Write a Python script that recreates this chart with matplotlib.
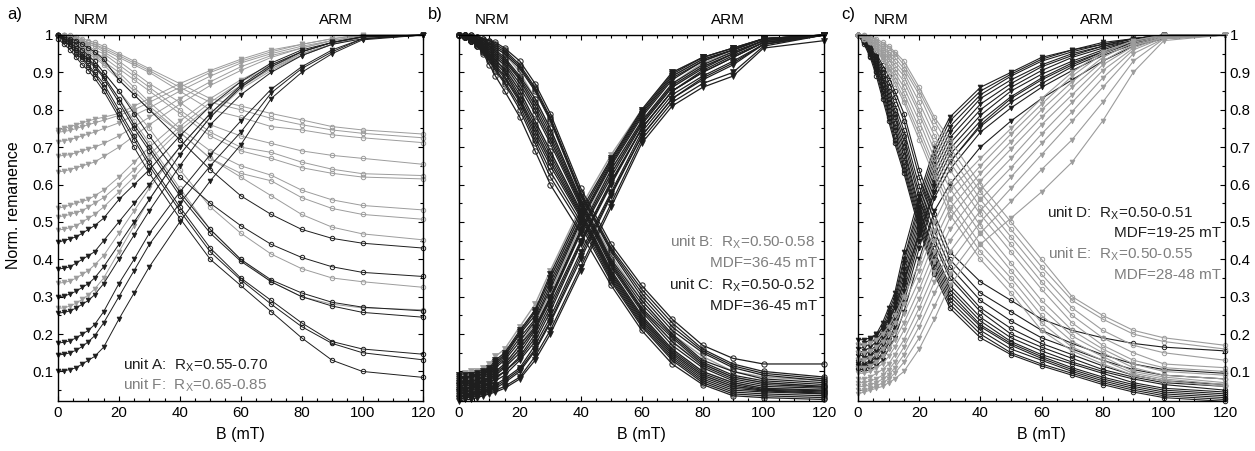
import numpy as np
import matplotlib
matplotlib.use('Agg')
import matplotlib.pyplot as plt
from matplotlib.ticker import MultipleLocator, FuncFormatter

plt.rcParams['font.family'] = ['Liberation Sans', 'DejaVu Sans']
plt.rcParams['mathtext.default'] = 'regular'
plt.rcParams['font.size'] = 11

# AF steps (mT), shared by all panels
field = [0, 2, 4, 6, 8, 10, 12, 15, 20, 25, 30, 40, 50, 60, 70, 80, 90, 100, 120]

# ---- panel a: unit A (black) and unit F (grey)
nrm_A = [
    [1.00, 0.995, 0.99, 0.985, 0.975, 0.965, 0.955, 0.935, 0.88, 0.84, 0.80, 0.72, 0.64, 0.57, 0.52, 0.48, 0.456, 0.443, 0.43],
    [1.00, 0.99, 0.985, 0.975, 0.96, 0.945, 0.93, 0.90, 0.85, 0.79, 0.73, 0.62, 0.55, 0.49, 0.44, 0.405, 0.38, 0.365, 0.354],
    [1.00, 0.99, 0.98, 0.965, 0.95, 0.935, 0.92, 0.89, 0.83, 0.76, 0.70, 0.58, 0.48, 0.40, 0.345, 0.31, 0.285, 0.272, 0.262],
    [1.00, 0.99, 0.975, 0.96, 0.945, 0.93, 0.915, 0.885, 0.82, 0.75, 0.69, 0.57, 0.47, 0.395, 0.34, 0.30, 0.275, 0.258, 0.245],
    [1.00, 0.985, 0.97, 0.955, 0.94, 0.92, 0.90, 0.87, 0.80, 0.73, 0.66, 0.54, 0.43, 0.35, 0.29, 0.23, 0.18, 0.16, 0.146],
    [1.00, 0.985, 0.97, 0.95, 0.935, 0.915, 0.895, 0.86, 0.79, 0.72, 0.65, 0.53, 0.42, 0.345, 0.28, 0.22, 0.175, 0.15, 0.131],
    [0.99, 0.975, 0.96, 0.94, 0.92, 0.905, 0.885, 0.85, 0.78, 0.70, 0.63, 0.51, 0.40, 0.33, 0.26, 0.19, 0.13, 0.10, 0.084],
]
arm_A = [
    [0.447, 0.45, 0.455, 0.46, 0.47, 0.48, 0.49, 0.51, 0.56, 0.60, 0.64, 0.73, 0.81, 0.875, 0.925, 0.96, 0.98, 0.995, 1.0],
    [0.374, 0.376, 0.38, 0.39, 0.40, 0.41, 0.42, 0.45, 0.50, 0.55, 0.60, 0.70, 0.79, 0.865, 0.92, 0.955, 0.98, 0.995, 1.0],
    [0.30, 0.302, 0.307, 0.315, 0.325, 0.335, 0.35, 0.38, 0.44, 0.50, 0.56, 0.68, 0.78, 0.86, 0.915, 0.955, 0.98, 0.995, 1.0],
    [0.256, 0.258, 0.262, 0.27, 0.28, 0.29, 0.305, 0.335, 0.40, 0.465, 0.53, 0.65, 0.76, 0.84, 0.90, 0.945, 0.975, 0.99, 1.0],
    [0.176, 0.178, 0.182, 0.19, 0.20, 0.21, 0.225, 0.26, 0.335, 0.40, 0.47, 0.58, 0.68, 0.77, 0.855, 0.915, 0.96, 0.99, 1.0],
    [0.144, 0.146, 0.15, 0.157, 0.167, 0.18, 0.195, 0.23, 0.30, 0.37, 0.44, 0.55, 0.65, 0.74, 0.845, 0.91, 0.955, 0.99, 1.0],
    [0.10, 0.102, 0.105, 0.11, 0.12, 0.13, 0.14, 0.165, 0.24, 0.31, 0.38, 0.50, 0.61, 0.706, 0.83, 0.90, 0.95, 0.987, 1.0],
]
nrm_F = [
    [1.00, 1.00, 1.00, 0.995, 0.99, 0.985, 0.98, 0.97, 0.95, 0.93, 0.91, 0.87, 0.83, 0.81, 0.79, 0.773, 0.755, 0.746, 0.735],
    [1.00, 1.00, 0.995, 0.99, 0.985, 0.98, 0.975, 0.965, 0.945, 0.925, 0.905, 0.86, 0.82, 0.80, 0.777, 0.76, 0.746, 0.737, 0.725],
    [1.00, 1.00, 0.995, 0.99, 0.985, 0.98, 0.975, 0.96, 0.94, 0.92, 0.90, 0.85, 0.80, 0.78, 0.755, 0.746, 0.733, 0.725, 0.712],
    [1.00, 1.00, 0.995, 0.99, 0.98, 0.975, 0.97, 0.955, 0.93, 0.90, 0.87, 0.82, 0.76, 0.73, 0.71, 0.69, 0.678, 0.67, 0.654],
    [1.00, 1.00, 0.99, 0.985, 0.98, 0.97, 0.96, 0.95, 0.92, 0.89, 0.86, 0.80, 0.74, 0.70, 0.686, 0.66, 0.641, 0.629, 0.624],
    [1.00, 0.995, 0.99, 0.985, 0.975, 0.965, 0.955, 0.94, 0.91, 0.88, 0.85, 0.79, 0.73, 0.69, 0.67, 0.645, 0.63, 0.62, 0.615],
    [1.00, 0.995, 0.99, 0.98, 0.97, 0.96, 0.95, 0.93, 0.90, 0.86, 0.82, 0.75, 0.69, 0.65, 0.625, 0.585, 0.559, 0.544, 0.532],
    [1.00, 0.995, 0.985, 0.975, 0.965, 0.955, 0.945, 0.925, 0.89, 0.85, 0.81, 0.74, 0.67, 0.63, 0.61, 0.565, 0.536, 0.52, 0.507],
    [1.00, 0.99, 0.985, 0.975, 0.96, 0.95, 0.94, 0.92, 0.88, 0.84, 0.80, 0.74, 0.67, 0.62, 0.57, 0.52, 0.486, 0.468, 0.452],
    [1.00, 0.99, 0.98, 0.97, 0.955, 0.94, 0.93, 0.90, 0.85, 0.80, 0.75, 0.64, 0.54, 0.47, 0.414, 0.375, 0.35, 0.34, 0.325],
    [1.00, 0.99, 0.98, 0.965, 0.95, 0.935, 0.92, 0.89, 0.83, 0.77, 0.71, 0.59, 0.48, 0.40, 0.34, 0.30, 0.28, 0.27, 0.265],
]
arm_F = [
    [0.745, 0.75, 0.755, 0.76, 0.765, 0.77, 0.775, 0.78, 0.79, 0.81, 0.83, 0.87, 0.905, 0.935, 0.96, 0.975, 0.99, 1.0, 1.0],
    [0.74, 0.742, 0.745, 0.75, 0.755, 0.76, 0.765, 0.772, 0.785, 0.80, 0.82, 0.86, 0.90, 0.93, 0.955, 0.975, 0.99, 1.0, 1.0],
    [0.715, 0.717, 0.72, 0.725, 0.73, 0.735, 0.74, 0.75, 0.765, 0.785, 0.805, 0.85, 0.89, 0.925, 0.95, 0.97, 0.985, 0.998, 1.0],
    [0.676, 0.678, 0.68, 0.685, 0.69, 0.695, 0.70, 0.71, 0.73, 0.755, 0.78, 0.83, 0.875, 0.915, 0.945, 0.965, 0.985, 0.997, 1.0],
    [0.634, 0.636, 0.64, 0.645, 0.65, 0.655, 0.66, 0.675, 0.70, 0.73, 0.76, 0.815, 0.865, 0.905, 0.94, 0.965, 0.985, 0.997, 1.0],
    [0.537, 0.54, 0.545, 0.55, 0.555, 0.56, 0.57, 0.585, 0.62, 0.66, 0.70, 0.77, 0.83, 0.88, 0.92, 0.955, 0.98, 0.995, 1.0],
    [0.514, 0.516, 0.52, 0.525, 0.53, 0.54, 0.55, 0.565, 0.60, 0.64, 0.68, 0.755, 0.82, 0.875, 0.915, 0.95, 0.975, 0.995, 1.0],
    [0.479, 0.48, 0.485, 0.49, 0.50, 0.51, 0.52, 0.54, 0.58, 0.62, 0.665, 0.745, 0.81, 0.865, 0.91, 0.945, 0.975, 0.995, 1.0],
    [0.336, 0.338, 0.342, 0.35, 0.36, 0.37, 0.385, 0.41, 0.47, 0.53, 0.59, 0.70, 0.79, 0.86, 0.91, 0.95, 0.975, 0.995, 1.0],
    [0.269, 0.27, 0.275, 0.283, 0.293, 0.305, 0.32, 0.35, 0.42, 0.49, 0.56, 0.68, 0.78, 0.855, 0.905, 0.945, 0.975, 0.995, 1.0],
]

# ---- panel b: unit B (grey) and unit C (black)
nrm_B = [
    [1.00, 1.00, 0.995, 0.99, 0.98, 0.97, 0.955, 0.935, 0.88, 0.80, 0.72, 0.55, 0.39, 0.27, 0.18, 0.12, 0.085, 0.07, 0.06],
    [1.00, 0.995, 0.99, 0.98, 0.97, 0.955, 0.94, 0.915, 0.85, 0.77, 0.69, 0.53, 0.37, 0.25, 0.16, 0.10, 0.07, 0.055, 0.05],
    [1.00, 0.995, 0.985, 0.975, 0.96, 0.945, 0.925, 0.90, 0.83, 0.75, 0.66, 0.52, 0.36, 0.24, 0.15, 0.09, 0.06, 0.05, 0.04],
    [1.00, 1.00, 0.995, 0.99, 0.985, 0.975, 0.965, 0.95, 0.90, 0.83, 0.75, 0.56, 0.41, 0.29, 0.20, 0.14, 0.10, 0.085, 0.075],
]
arm_B = [
    [0.09, 0.095, 0.10, 0.10, 0.11, 0.12, 0.14, 0.16, 0.22, 0.28, 0.37, 0.54, 0.68, 0.80, 0.90, 0.94, 0.965, 0.99, 1.0],
    [0.07, 0.08, 0.08, 0.085, 0.09, 0.10, 0.12, 0.145, 0.20, 0.26, 0.35, 0.52, 0.67, 0.79, 0.89, 0.935, 0.96, 0.99, 1.0],
    [0.06, 0.06, 0.065, 0.07, 0.08, 0.09, 0.10, 0.12, 0.17, 0.23, 0.31, 0.49, 0.64, 0.77, 0.87, 0.925, 0.955, 0.985, 1.0],
    [0.05, 0.055, 0.06, 0.06, 0.07, 0.08, 0.09, 0.11, 0.16, 0.22, 0.30, 0.47, 0.63, 0.76, 0.86, 0.915, 0.95, 0.985, 1.0],
]
nrm_C = [
    [1.00, 1.00, 1.00, 0.995, 0.99, 0.985, 0.98, 0.965, 0.93, 0.87, 0.79, 0.59, 0.44, 0.33, 0.24, 0.17, 0.135, 0.12, 0.12],
    [1.00, 1.00, 1.00, 0.995, 0.99, 0.985, 0.975, 0.96, 0.92, 0.86, 0.78, 0.58, 0.43, 0.32, 0.23, 0.16, 0.12, 0.10, 0.085],
    [1.00, 1.00, 0.995, 0.99, 0.985, 0.98, 0.97, 0.955, 0.915, 0.855, 0.775, 0.575, 0.425, 0.31, 0.22, 0.155, 0.115, 0.095, 0.08],
    [1.00, 1.00, 0.995, 0.99, 0.985, 0.975, 0.965, 0.95, 0.91, 0.85, 0.77, 0.57, 0.42, 0.30, 0.21, 0.15, 0.11, 0.09, 0.075],
    [1.00, 1.00, 0.995, 0.99, 0.98, 0.97, 0.96, 0.94, 0.89, 0.83, 0.75, 0.56, 0.40, 0.29, 0.20, 0.13, 0.10, 0.08, 0.07],
    [1.00, 0.995, 0.99, 0.985, 0.98, 0.97, 0.955, 0.935, 0.885, 0.82, 0.74, 0.555, 0.395, 0.28, 0.195, 0.125, 0.09, 0.075, 0.065],
    [1.00, 0.995, 0.99, 0.985, 0.975, 0.965, 0.95, 0.93, 0.88, 0.81, 0.73, 0.55, 0.39, 0.27, 0.19, 0.12, 0.085, 0.07, 0.06],
    [1.00, 0.995, 0.99, 0.98, 0.97, 0.96, 0.945, 0.925, 0.87, 0.80, 0.72, 0.545, 0.385, 0.265, 0.18, 0.115, 0.08, 0.065, 0.058],
    [1.00, 0.995, 0.99, 0.98, 0.97, 0.955, 0.94, 0.92, 0.86, 0.79, 0.71, 0.54, 0.38, 0.26, 0.17, 0.11, 0.075, 0.06, 0.055],
    [1.00, 0.995, 0.99, 0.98, 0.965, 0.95, 0.935, 0.905, 0.84, 0.76, 0.68, 0.525, 0.365, 0.245, 0.155, 0.095, 0.065, 0.052, 0.048],
    [1.00, 0.995, 0.99, 0.98, 0.965, 0.95, 0.93, 0.91, 0.85, 0.77, 0.69, 0.53, 0.37, 0.25, 0.16, 0.10, 0.07, 0.055, 0.05],
    [1.00, 0.995, 0.985, 0.975, 0.96, 0.945, 0.925, 0.90, 0.83, 0.75, 0.67, 0.52, 0.36, 0.24, 0.15, 0.09, 0.06, 0.05, 0.045],
    [1.00, 0.995, 0.985, 0.975, 0.96, 0.94, 0.92, 0.89, 0.825, 0.74, 0.66, 0.515, 0.355, 0.235, 0.145, 0.085, 0.055, 0.048, 0.042],
    [1.00, 0.995, 0.985, 0.975, 0.96, 0.94, 0.915, 0.885, 0.82, 0.73, 0.65, 0.51, 0.35, 0.23, 0.14, 0.08, 0.05, 0.045, 0.04],
    [1.00, 0.995, 0.985, 0.97, 0.955, 0.935, 0.91, 0.875, 0.81, 0.72, 0.635, 0.50, 0.345, 0.225, 0.135, 0.075, 0.045, 0.04, 0.035],
    [1.00, 0.995, 0.985, 0.97, 0.955, 0.93, 0.905, 0.87, 0.80, 0.71, 0.62, 0.49, 0.34, 0.22, 0.13, 0.07, 0.04, 0.035, 0.03],
    [1.00, 0.995, 0.985, 0.97, 0.95, 0.92, 0.89, 0.85, 0.78, 0.69, 0.60, 0.47, 0.33, 0.21, 0.12, 0.065, 0.035, 0.03, 0.025],
]
arm_C = [
    [0.08, 0.09, 0.085, 0.095, 0.10, 0.11, 0.13, 0.15, 0.21, 0.265, 0.36, 0.53, 0.67, 0.80, 0.90, 0.94, 0.965, 0.99, 1.0],
    [0.085, 0.08, 0.09, 0.085, 0.095, 0.105, 0.125, 0.145, 0.205, 0.26, 0.35, 0.52, 0.665, 0.795, 0.895, 0.94, 0.965, 0.99, 1.0],
    [0.09, 0.08, 0.09, 0.09, 0.095, 0.10, 0.12, 0.14, 0.20, 0.25, 0.34, 0.51, 0.66, 0.79, 0.89, 0.935, 0.96, 0.99, 1.0],
    [0.075, 0.07, 0.08, 0.075, 0.09, 0.095, 0.115, 0.135, 0.19, 0.24, 0.33, 0.505, 0.655, 0.785, 0.885, 0.93, 0.96, 0.99, 1.0],
    [0.07, 0.075, 0.07, 0.08, 0.085, 0.09, 0.11, 0.13, 0.18, 0.235, 0.32, 0.50, 0.65, 0.78, 0.88, 0.93, 0.96, 0.99, 1.0],
    [0.06, 0.065, 0.07, 0.065, 0.075, 0.085, 0.10, 0.12, 0.17, 0.22, 0.30, 0.48, 0.64, 0.77, 0.87, 0.92, 0.955, 0.985, 1.0],
    [0.055, 0.065, 0.06, 0.07, 0.075, 0.08, 0.095, 0.115, 0.16, 0.215, 0.295, 0.475, 0.63, 0.765, 0.865, 0.915, 0.95, 0.985, 1.0],
    [0.05, 0.06, 0.055, 0.065, 0.07, 0.075, 0.09, 0.11, 0.15, 0.21, 0.29, 0.47, 0.62, 0.76, 0.86, 0.91, 0.95, 0.985, 1.0],
    [0.065, 0.05, 0.06, 0.055, 0.06, 0.07, 0.08, 0.10, 0.14, 0.20, 0.28, 0.45, 0.61, 0.75, 0.85, 0.905, 0.945, 0.98, 1.0],
    [0.045, 0.05, 0.05, 0.055, 0.06, 0.065, 0.085, 0.10, 0.135, 0.19, 0.27, 0.445, 0.605, 0.75, 0.85, 0.90, 0.94, 0.98, 1.0],
    [0.04, 0.045, 0.05, 0.05, 0.055, 0.06, 0.075, 0.09, 0.13, 0.18, 0.26, 0.44, 0.60, 0.75, 0.85, 0.90, 0.94, 0.98, 1.0],
    [0.045, 0.04, 0.04, 0.045, 0.05, 0.055, 0.065, 0.08, 0.11, 0.17, 0.245, 0.42, 0.58, 0.74, 0.84, 0.89, 0.93, 0.975, 1.0],
    [0.035, 0.035, 0.04, 0.04, 0.045, 0.05, 0.055, 0.07, 0.10, 0.155, 0.23, 0.40, 0.57, 0.73, 0.83, 0.88, 0.92, 0.975, 1.0],
    [0.03, 0.035, 0.035, 0.04, 0.045, 0.05, 0.06, 0.075, 0.105, 0.16, 0.235, 0.41, 0.575, 0.73, 0.83, 0.885, 0.925, 0.975, 1.0],
    [0.025, 0.03, 0.03, 0.035, 0.04, 0.045, 0.05, 0.06, 0.085, 0.14, 0.21, 0.38, 0.55, 0.72, 0.82, 0.87, 0.90, 0.97, 1.0],
    [0.02, 0.025, 0.025, 0.03, 0.035, 0.04, 0.045, 0.055, 0.08, 0.13, 0.20, 0.37, 0.54, 0.71, 0.81, 0.86, 0.89, 0.965, 0.985],
]

# ---- panel c: unit D (black) and unit E (grey)
nrm_D = [
    [1.00, 0.975, 0.94, 0.89, 0.83, 0.77, 0.71, 0.63, 0.48, 0.36, 0.27, 0.19, 0.145, 0.115, 0.09, 0.065, 0.045, 0.03, 0.02],
    [1.00, 0.98, 0.945, 0.90, 0.84, 0.78, 0.72, 0.64, 0.49, 0.37, 0.28, 0.20, 0.15, 0.12, 0.095, 0.07, 0.05, 0.035, 0.025],
    [1.00, 0.98, 0.95, 0.905, 0.85, 0.79, 0.73, 0.65, 0.50, 0.38, 0.29, 0.21, 0.16, 0.13, 0.10, 0.075, 0.055, 0.04, 0.03],
    [1.00, 0.98, 0.95, 0.91, 0.855, 0.80, 0.745, 0.66, 0.51, 0.39, 0.30, 0.22, 0.17, 0.135, 0.105, 0.08, 0.06, 0.045, 0.035],
    [1.00, 0.985, 0.955, 0.915, 0.865, 0.81, 0.755, 0.675, 0.52, 0.40, 0.31, 0.225, 0.175, 0.14, 0.11, 0.085, 0.065, 0.05, 0.04],
    [1.00, 0.985, 0.96, 0.92, 0.87, 0.82, 0.765, 0.69, 0.53, 0.41, 0.32, 0.235, 0.18, 0.145, 0.12, 0.095, 0.07, 0.055, 0.045],
    [1.00, 0.985, 0.96, 0.925, 0.88, 0.83, 0.78, 0.70, 0.54, 0.42, 0.33, 0.245, 0.19, 0.155, 0.125, 0.10, 0.08, 0.065, 0.05],
    [1.00, 0.99, 0.965, 0.93, 0.885, 0.84, 0.79, 0.715, 0.56, 0.44, 0.35, 0.26, 0.20, 0.165, 0.135, 0.105, 0.085, 0.07, 0.06],
    [1.00, 0.99, 0.965, 0.935, 0.89, 0.85, 0.80, 0.73, 0.575, 0.455, 0.36, 0.27, 0.215, 0.175, 0.145, 0.115, 0.09, 0.075, 0.065],
    [1.00, 0.99, 0.97, 0.94, 0.90, 0.86, 0.815, 0.745, 0.595, 0.475, 0.38, 0.29, 0.235, 0.19, 0.16, 0.13, 0.105, 0.09, 0.08],
    [1.00, 0.99, 0.97, 0.945, 0.91, 0.875, 0.835, 0.77, 0.62, 0.50, 0.40, 0.31, 0.26, 0.21, 0.175, 0.145, 0.12, 0.105, 0.095],
    [1.00, 0.99, 0.975, 0.95, 0.92, 0.89, 0.85, 0.79, 0.64, 0.52, 0.42, 0.34, 0.29, 0.24, 0.21, 0.19, 0.175, 0.165, 0.155],
]
arm_D = [
    [0.17, 0.175, 0.185, 0.20, 0.23, 0.27, 0.31, 0.42, 0.57, 0.70, 0.78, 0.86, 0.90, 0.94, 0.96, 0.98, 0.99, 1.0, 1.0],
    [0.16, 0.165, 0.175, 0.19, 0.22, 0.26, 0.30, 0.40, 0.555, 0.685, 0.77, 0.85, 0.895, 0.935, 0.96, 0.975, 0.99, 1.0, 1.0],
    [0.15, 0.155, 0.165, 0.18, 0.21, 0.25, 0.29, 0.39, 0.54, 0.67, 0.755, 0.84, 0.89, 0.93, 0.955, 0.975, 0.99, 1.0, 1.0],
    [0.14, 0.145, 0.155, 0.17, 0.20, 0.24, 0.28, 0.375, 0.525, 0.655, 0.74, 0.83, 0.88, 0.92, 0.95, 0.97, 0.99, 1.0, 1.0],
    [0.13, 0.135, 0.145, 0.16, 0.19, 0.23, 0.27, 0.36, 0.51, 0.64, 0.725, 0.815, 0.87, 0.915, 0.945, 0.97, 0.985, 1.0, 1.0],
    [0.125, 0.13, 0.14, 0.155, 0.18, 0.22, 0.255, 0.345, 0.495, 0.625, 0.71, 0.80, 0.86, 0.905, 0.94, 0.965, 0.985, 1.0, 1.0],
    [0.12, 0.12, 0.13, 0.145, 0.17, 0.21, 0.245, 0.33, 0.48, 0.61, 0.695, 0.785, 0.85, 0.895, 0.93, 0.96, 0.985, 0.995, 1.0],
    [0.115, 0.115, 0.125, 0.14, 0.16, 0.20, 0.235, 0.315, 0.465, 0.595, 0.68, 0.77, 0.835, 0.885, 0.925, 0.955, 0.98, 0.995, 1.0],
    [0.11, 0.11, 0.12, 0.13, 0.15, 0.185, 0.22, 0.30, 0.45, 0.58, 0.66, 0.755, 0.82, 0.87, 0.915, 0.95, 0.98, 0.995, 1.0],
    [0.105, 0.105, 0.115, 0.125, 0.145, 0.175, 0.21, 0.285, 0.43, 0.565, 0.64, 0.74, 0.805, 0.86, 0.905, 0.945, 0.975, 0.995, 1.0],
    [0.10, 0.10, 0.105, 0.115, 0.13, 0.16, 0.19, 0.26, 0.40, 0.53, 0.60, 0.70, 0.77, 0.83, 0.88, 0.93, 0.97, 0.99, 1.0],
    [0.185, 0.185, 0.19, 0.20, 0.215, 0.24, 0.27, 0.34, 0.47, 0.58, 0.66, 0.76, 0.83, 0.88, 0.92, 0.955, 0.98, 0.995, 1.0],
]
nrm_E = [
    [1.00, 1.00, 0.995, 0.99, 0.98, 0.97, 0.955, 0.93, 0.86, 0.78, 0.72, 0.60, 0.50, 0.40, 0.30, 0.25, 0.21, 0.19, 0.17],
    [1.00, 1.00, 0.995, 0.985, 0.975, 0.965, 0.95, 0.92, 0.85, 0.77, 0.70, 0.58, 0.48, 0.38, 0.29, 0.24, 0.20, 0.18, 0.16],
    [1.00, 0.995, 0.99, 0.98, 0.97, 0.955, 0.94, 0.91, 0.84, 0.75, 0.68, 0.56, 0.46, 0.36, 0.27, 0.21, 0.17, 0.15, 0.13],
    [1.00, 0.995, 0.99, 0.98, 0.965, 0.95, 0.93, 0.90, 0.82, 0.73, 0.66, 0.54, 0.44, 0.34, 0.25, 0.19, 0.15, 0.12, 0.11],
    [1.00, 0.995, 0.985, 0.975, 0.96, 0.94, 0.92, 0.89, 0.80, 0.71, 0.64, 0.52, 0.42, 0.32, 0.23, 0.17, 0.13, 0.11, 0.10],
    [1.00, 0.995, 0.985, 0.97, 0.955, 0.935, 0.91, 0.875, 0.79, 0.69, 0.61, 0.49, 0.39, 0.29, 0.21, 0.16, 0.12, 0.10, 0.09],
    [1.00, 0.99, 0.985, 0.97, 0.95, 0.925, 0.90, 0.86, 0.77, 0.67, 0.59, 0.47, 0.37, 0.27, 0.195, 0.15, 0.11, 0.09, 0.08],
    [1.00, 0.99, 0.98, 0.965, 0.945, 0.915, 0.89, 0.845, 0.75, 0.65, 0.56, 0.44, 0.35, 0.25, 0.18, 0.14, 0.10, 0.085, 0.07],
    [1.00, 0.99, 0.98, 0.96, 0.94, 0.91, 0.88, 0.83, 0.735, 0.635, 0.54, 0.42, 0.33, 0.23, 0.165, 0.13, 0.095, 0.08, 0.065],
    [1.00, 0.99, 0.98, 0.96, 0.935, 0.90, 0.87, 0.82, 0.72, 0.62, 0.52, 0.40, 0.31, 0.21, 0.155, 0.12, 0.09, 0.075, 0.06],
]
arm_E = [
    [0.17, 0.17, 0.175, 0.185, 0.20, 0.22, 0.25, 0.30, 0.39, 0.50, 0.585, 0.67, 0.75, 0.83, 0.90, 0.955, 0.985, 1.0, 1.0],
    [0.15, 0.15, 0.155, 0.165, 0.18, 0.20, 0.23, 0.28, 0.37, 0.475, 0.56, 0.65, 0.735, 0.815, 0.89, 0.95, 0.985, 1.0, 1.0],
    [0.13, 0.13, 0.135, 0.145, 0.16, 0.18, 0.205, 0.255, 0.345, 0.45, 0.535, 0.63, 0.715, 0.80, 0.875, 0.94, 0.98, 0.998, 1.0],
    [0.11, 0.11, 0.115, 0.125, 0.14, 0.16, 0.185, 0.23, 0.32, 0.42, 0.51, 0.61, 0.695, 0.78, 0.86, 0.93, 0.975, 0.997, 1.0],
    [0.095, 0.095, 0.10, 0.11, 0.12, 0.14, 0.165, 0.21, 0.295, 0.395, 0.48, 0.585, 0.67, 0.76, 0.84, 0.92, 0.97, 0.995, 1.0],
    [0.08, 0.08, 0.085, 0.095, 0.105, 0.12, 0.145, 0.185, 0.27, 0.365, 0.45, 0.56, 0.645, 0.735, 0.82, 0.905, 0.965, 0.995, 1.0],
    [0.07, 0.07, 0.075, 0.08, 0.09, 0.105, 0.125, 0.165, 0.245, 0.34, 0.42, 0.53, 0.62, 0.71, 0.795, 0.885, 0.96, 0.993, 1.0],
    [0.06, 0.06, 0.065, 0.07, 0.08, 0.09, 0.11, 0.145, 0.22, 0.31, 0.39, 0.50, 0.59, 0.68, 0.77, 0.86, 0.95, 0.99, 1.0],
    [0.05, 0.05, 0.055, 0.06, 0.07, 0.08, 0.095, 0.125, 0.19, 0.275, 0.36, 0.47, 0.555, 0.64, 0.72, 0.82, 0.93, 0.99, 1.0],
    [0.04, 0.045, 0.05, 0.055, 0.06, 0.07, 0.08, 0.10, 0.16, 0.24, 0.33, 0.44, 0.51, 0.58, 0.66, 0.77, 0.90, 0.985, 1.0],
]

BLACK = '#1e1e1e'
GREY = '#9c9c9c'
GREY_TXT = '#7f7f7f'


def draw(ax, curves, color, marker, lw=0.7, ms=3.2):
    for vals in curves:
        if marker == 'o':
            ax.plot(field, vals, '-', color=color, lw=lw, marker='o', ms=ms,
                    mfc='none', mec=color, mew=0.7, clip_on=False)
        else:
            ax.plot(field, vals, '-', color=color, lw=lw, marker='v', ms=ms + 0.3,
                    mfc=color, mec=color, mew=0.5, clip_on=False)


def style(ax):
    ax.set_xlim(0, 120)
    ax.set_ylim(0.021, 1.0)
    ax.xaxis.set_major_locator(MultipleLocator(20))
    ax.xaxis.set_minor_locator(MultipleLocator(5))
    ax.yaxis.set_major_locator(MultipleLocator(0.1))
    ax.yaxis.set_minor_locator(MultipleLocator(0.05))
    ax.yaxis.set_major_formatter(FuncFormatter(lambda v, p: f'{v:g}'))
    ax.tick_params(which='both', direction='in', top=True, right=True,
                   labelsize=10.8, width=0.8)
    ax.tick_params(which='major', length=3.5)
    ax.tick_params(which='minor', length=2)
    for s in ax.spines.values():
        s.set_linewidth(1.0)
    ax.set_xlabel('B (mT)', fontsize=11.5, labelpad=5)
    ax.text(0.09, 1.04, 'NRM', transform=ax.transAxes, ha='center', va='center', fontsize=11)


fig = plt.figure(figsize=(12.55, 4.51), dpi=100)
ax_a = fig.add_axes([0.0462, 0.1109, 0.2912, 0.8115])
ax_b = fig.add_axes([0.3657, 0.1109, 0.2912, 0.8115])
ax_c = fig.add_axes([0.6837, 0.1109, 0.2924, 0.8115])

# panel a
draw(ax_a, nrm_F, GREY, 'o')
draw(ax_a, arm_F, GREY, 'v')
draw(ax_a, nrm_A, BLACK, 'o')
draw(ax_a, arm_A, BLACK, 'v')
style(ax_a)
ax_a.text(0.76, 1.04, 'ARM', transform=ax_a.transAxes, ha='center', va='center', fontsize=11)
ax_a.text(0.178, 0.098, 'unit A:  R$_X$=0.55-0.70', transform=ax_a.transAxes,
          ha='left', va='center', fontsize=11, color=BLACK)
ax_a.text(0.178, 0.044, 'unit F:  R$_X$=0.65-0.85', transform=ax_a.transAxes,
          ha='left', va='center', fontsize=11, color=GREY_TXT)

# panel b
draw(ax_b, nrm_B, GREY, 'o', lw=1.0, ms=3.8)
draw(ax_b, arm_B, GREY, 'v', lw=1.0, ms=3.8)
draw(ax_b, nrm_C, BLACK, 'o', lw=0.9, ms=3.8)
draw(ax_b, arm_C, BLACK, 'v', lw=0.9, ms=3.8)
style(ax_b)
ax_b.tick_params(labelleft=False)
ax_b.text(0.737, 1.04, 'ARM', transform=ax_b.transAxes, ha='center', va='center', fontsize=11)
ax_b.text(0.975, 0.434, 'unit B:  R$_X$=0.50-0.58', transform=ax_b.transAxes,
          ha='right', va='center', fontsize=11, color=GREY_TXT)
ax_b.text(0.98, 0.377, 'MDF=36-45 mT', transform=ax_b.transAxes,
          ha='right', va='center', fontsize=11, color=GREY_TXT)
ax_b.text(0.975, 0.317, 'unit C:  R$_X$=0.50-0.52', transform=ax_b.transAxes,
          ha='right', va='center', fontsize=11, color=BLACK)
ax_b.text(0.98, 0.260, 'MDF=36-45 mT', transform=ax_b.transAxes,
          ha='right', va='center', fontsize=11, color=BLACK)

# panel c
draw(ax_c, nrm_D, BLACK, 'o', lw=0.8)
draw(ax_c, arm_D, BLACK, 'v', lw=0.8)
draw(ax_c, nrm_E, GREY, 'o', lw=0.8)
draw(ax_c, arm_E, GREY, 'v', lw=0.8)
style(ax_c)
ax_c.tick_params(labelleft=False, labelright=True)
ax_c.text(0.651, 1.04, 'ARM', transform=ax_c.transAxes, ha='center', va='center', fontsize=11)
ax_c.text(0.913, 0.514, 'unit D:  R$_X$=0.50-0.51', transform=ax_c.transAxes,
          ha='right', va='center', fontsize=11, color=BLACK)
ax_c.text(0.989, 0.459, 'MDF=19-25 mT', transform=ax_c.transAxes,
          ha='right', va='center', fontsize=11, color=BLACK)
ax_c.text(0.913, 0.402, 'unit E:  R$_X$=0.50-0.55', transform=ax_c.transAxes,
          ha='right', va='center', fontsize=11, color=GREY_TXT)
ax_c.text(0.989, 0.344, 'MDF=28-48 mT', transform=ax_c.transAxes,
          ha='right', va='center', fontsize=11, color=GREY_TXT)

fig.text(0.012, 0.967, 'a)', fontsize=12, ha='center', va='center')
fig.text(0.347, 0.967, 'b)', fontsize=12, ha='center', va='center')
fig.text(0.676, 0.967, 'c)', fontsize=12, ha='center', va='center')
fig.text(0.011, 0.545, 'Norm. remanence', rotation=90, fontsize=11.5, ha='center', va='center')

fig.savefig('out.png', dpi=100)
